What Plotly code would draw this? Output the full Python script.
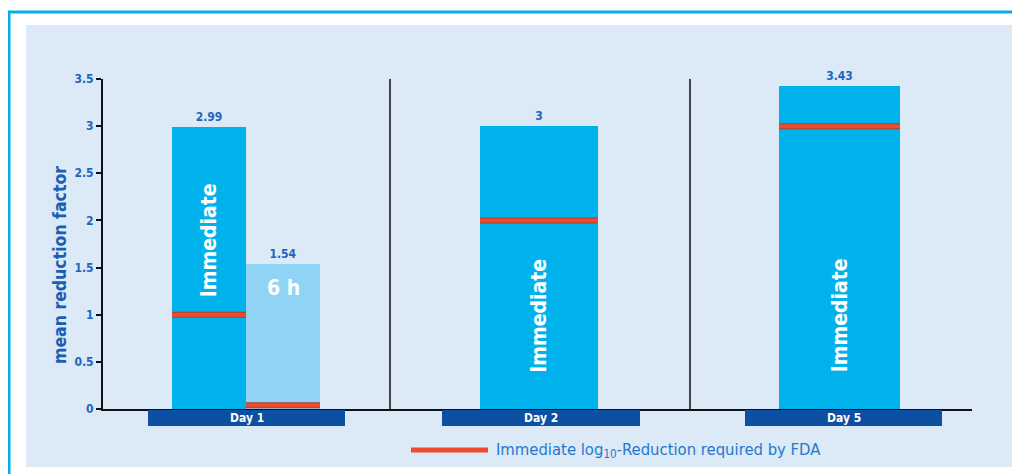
import plotly.graph_objects as go

# ---- data ----
days = ["Day 1", "Day 2", "Day 5"]
bar_labels = ["Immediate", "6 h", "Immediate", "Immediate"]
bar_day = ["Day 1", "Day 1", "Day 2", "Day 5"]
bar_values = [2.99, 1.54, 3.00, 3.43]
bar_value_text = ["2.99", "1.54", "3", "3.43"]
fda_required = [1.0, 0.04, 2.0, 3.0]
y_ticks = [0, 0.5, 1, 1.5, 2, 2.5, 3, 3.5]
y_tick_text = ["0", "0.5", "1", "1.5", "2", "2.5", "3", "3.5"]
y_title = "mean reduction factor"
legend_text = "Immediate log<sub>10</sub>-Reduction required by FDA"

# ---- layout geometry (reference pixel based; page has an 8px body margin) ----
OFF = 8
W, H = 1020 - OFF, 474 - OFF
PLOT_L, PLOT_R, PLOT_T, PLOT_B = 103, 972, 79, 409   # reference pixels
L = PLOT_L - OFF
R = W - (PLOT_R - OFF)
T = PLOT_T - OFF
B = H - (PLOT_B - OFF)
PW = PLOT_R - PLOT_L
PH = PLOT_B - PLOT_T

def px(x):
    return (x - PLOT_L) / PW

def py(y):
    return (PLOT_B - y) / PH

bar_x = [106, 180, 436, 736.5]
bar_w = [74, 74, 118, 121]
bar_colors = ["#00B2EB", "#8FD4F5", "#00B2EB", "#00B2EB"]
day_label_px = [(148, 345), (442, 640), (745, 942)]
separators = [287, 587]

FONT = "Liberation Sans Narrow, DejaVu Sans Condensed, Arial Narrow, sans-serif"
BLUE_TXT = "#1D66BE"
RED = "#EE4A2B"

fig = go.Figure()

fig.add_trace(go.Bar(
    x=bar_x, y=bar_values, width=bar_w,
    marker=dict(color=bar_colors, line=dict(width=0)),
    text=["<b>%s</b>" % t for t in bar_value_text], textposition="outside",
    outsidetextfont=dict(family=FONT, size=12, color=BLUE_TXT),
    cliponaxis=False, showlegend=False, hoverinfo="y",
))

# FDA required lines across each bar
lx, ly = [], []
for xc, w, v in zip(bar_x, bar_w, fda_required):
    lx += [xc - w / 2, xc + w / 2, None]
    ly += [v, v, None]
fig.add_trace(go.Scatter(x=lx, y=ly, mode="lines",
                         line=dict(color="#A8442E", width=6),
                         showlegend=False, hoverinfo="skip", cliponaxis=False))
fig.add_trace(go.Scatter(x=lx, y=ly, mode="lines",
                         line=dict(color=RED, width=4),
                         name=legend_text,
                         showlegend=False, hoverinfo="skip", cliponaxis=False))

shapes = []
# outer border and panel
shapes.append(dict(type="rect", xref="paper", yref="paper", layer="below",
                   x0=px(9), x1=px(1040), y0=py(12), y1=py(490),
                   line=dict(color="#00AEEF", width=3), fillcolor="white"))
shapes.append(dict(type="rect", xref="paper", yref="paper", layer="below",
                   x0=px(26), x1=px(1016), y0=py(25), y1=py(467),
                   line=dict(width=0), fillcolor="#DCE9F6"))
# separators
for s in separators:
    shapes.append(dict(type="line", xref="x", yref="y", x0=s, x1=s, y0=0, y1=3.5,
                       line=dict(color="#111111", width=1.5)))
# day label bars
annotations = []
for d, (a, b) in zip(days, day_label_px):
    shapes.append(dict(type="rect", xref="paper", yref="paper",
                       x0=px(a), x1=px(b), y0=py(426), y1=py(410),
                       line=dict(width=0), fillcolor="#0D4FA0"))
    annotations.append(dict(xref="paper", yref="paper", x=px((a + b) / 2), y=py(418),
                            text="<b>%s</b>" % d, showarrow=False,
                            font=dict(family=FONT, size=12, color="white"),
                            xanchor="center", yanchor="middle"))

# text inside bars
inside_y = [1.79, 1.28, 0.99, 0.99]
for xc, lab, yy in zip(bar_x, bar_labels, inside_y):
    rot = -90 if lab == "Immediate" else 0
    annotations.append(dict(x=xc, y=yy, xref="x", yref="y", text="<b>%s</b>" % lab,
                            showarrow=False, textangle=rot,
                            font=dict(family=FONT, size=21, color="white"),
                            xanchor="center", yanchor="middle"))

# y-axis title (placed as in the reference, slightly below plot centre)
annotations.append(dict(xref="paper", yref="paper", x=px(60), y=py(265),
                        text="<b>%s</b>" % y_title, showarrow=False, textangle=-90,
                        xanchor="center", yanchor="middle",
                        font=dict(family=FONT, size=17.5, color="#1A5FB4")))

# legend (manual)
shapes.append(dict(type="line", xref="paper", yref="paper",
                   x0=px(411), x1=px(488), y0=py(450), y1=py(450),
                   line=dict(color=RED, width=5)))
annotations.append(dict(xref="paper", yref="paper", x=px(494), y=py(450),
                        text=legend_text,
                        showarrow=False, xanchor="left", yanchor="middle",
                        font=dict(family=FONT, size=16.5, color="#2379CF")))

fig.update_layout(
    width=W, height=H,
    margin=dict(l=L, r=R, t=T, b=B),
    paper_bgcolor="white", plot_bgcolor="rgba(0,0,0,0)",
    shapes=shapes, annotations=annotations,
    showlegend=False,
    xaxis=dict(range=[0, PW], showgrid=False, zeroline=False, showticklabels=False,
               ticks="", showline=True, linecolor="#111111", linewidth=2, fixedrange=True),
    yaxis=dict(range=[0, 3.5], tickvals=y_ticks,
               ticktext=["<b>%s</b>" % t for t in y_tick_text],
               showgrid=False, zeroline=False, showline=True, linecolor="#111111",
               linewidth=2, ticks="outside", ticklen=5, tickwidth=2, tickcolor="#111111",
               tickfont=dict(family=FONT, size=12, color=BLUE_TXT),
               fixedrange=True),
    bargap=0,
)

fig.write_html("out.html")
